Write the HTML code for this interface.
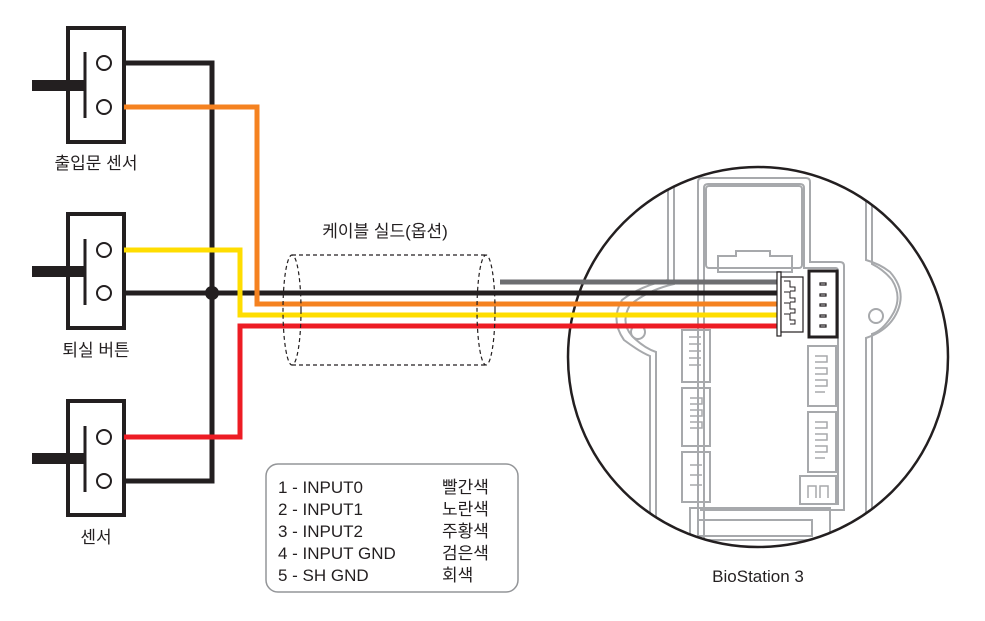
<!DOCTYPE html>
<html><head><meta charset="utf-8"><style>
html,body{margin:0;padding:0;background:#fff}
svg{display:block}
text{font-family:"Liberation Sans","Noto Sans CJK KR",sans-serif;fill:#231f20}
</style></head><body>
<svg width="985" height="621" viewBox="0 0 985 621" xmlns="http://www.w3.org/2000/svg">
<defs><clipPath id="c"><circle cx="758" cy="357" r="190"/></clipPath></defs>
<!-- board in circle -->
<g clip-path="url(#c)" fill="none" stroke="#a7a9ac" stroke-width="2">
  <path d="M698 600 V182 Q698 178 702 178 H806 Q810 178 810 182 V262 H840 Q844 262 844 266 V510 H700"/>
  <path d="M704 600 V188 Q704 184 708 184 H800 Q804 184 804 188 V268 H836 Q838 268 838 272 V505"/>
  <rect x="706" y="186" width="96" height="82" rx="3"/>
  <path d="M718 272 V256 H736 V251 H770 V256 H792 V272 Z"/>
  <path d="M668 186 V280 Q640 286 622 300 Q610 320 624 340 Q640 352 650 356 V600"/>
  <path d="M674 186 V284 Q648 290 630 305 Q620 322 632 336 Q644 348 656 352 V600"/>
  <circle cx="638" cy="332" r="7"/>
  <path d="M866 186 V260 Q880 264 890 272 Q906 290 898 310 Q890 330 866 338 V600"/>
  <path d="M872 186 V264 Q884 270 892 280 Q902 296 894 312 Q884 330 872 334 V600"/>
  <circle cx="876" cy="316" r="7"/>
  <rect x="682" y="330" width="28" height="52"/>
  <rect x="682" y="388" width="28" height="58"/>
  <rect x="682" y="452" width="28" height="50"/>
  <rect x="808" y="346" width="28" height="60"/>
  <rect x="808" y="412" width="28" height="60"/>
  <rect x="800" y="476" width="36" height="28"/>
  <path d="M690 508 H830 V540 H690 Z"/>
  <path d="M698 520 H812 V536 H698 Z"/>
</g>
<g fill="none" stroke="#a7a9ac" stroke-width="1.5">
  <path d="M689 337 h12 M689 344 h12 M689 351 h12 M689 358 h12 M689 365 h12"/>
  <path d="M690 398 h12 v6 h-12 M690 410 h12 v6 h-12 M690 422 h12 v6 h-12"/>
  <path d="M690 465 h12 M690 475 h12 M690 485 h12"/>
  <path d="M815 356 h12 v6 h-12 M815 368 h12 v6 h-12 M815 380 h12 v6 h-12 M815 392 h10"/>
  <path d="M815 422 h12 v6 h-12 M815 434 h12 v6 h-12 M815 446 h12 v6 h-12 M815 458 h10"/>
  <path d="M808 498 v-12 h8 v12 M820 498 v-12 h8 v12"/>
</g>
<circle cx="758" cy="357" r="190" fill="none" stroke="#231f20" stroke-width="2.5"/>

<!-- switches -->
<g fill="none" stroke="#231f20">
  <rect x="68" y="28" width="56" height="114" stroke-width="4"/>
  <rect x="68" y="214" width="56" height="114" stroke-width="4"/>
  <rect x="68" y="401" width="56" height="114" stroke-width="4"/>
  <g stroke-width="2"><circle cx="104" cy="63" r="7"/><circle cx="104" cy="107" r="7"/>
  <circle cx="104" cy="250" r="7"/><circle cx="104" cy="293" r="7"/>
  <circle cx="104" cy="437" r="7"/><circle cx="104" cy="481" r="7"/></g>
  <g stroke-width="3"><path d="M85 52 V118 M85 239 V305 M85 426 V492"/></g>
</g>
<g fill="#231f20"><rect x="32" y="80" width="53" height="11"/><rect x="32" y="266" width="53" height="11"/><rect x="32" y="453" width="53" height="11"/></g>

<!-- wires -->
<g fill="none" stroke-width="5" stroke-linejoin="miter">
  <path d="M124 63 H212 V481 H124 M124 293 H778" stroke="#231f20"/>
  <path d="M500 282 H778" stroke="#6d6e71"/>
  <path d="M124 107 H257 V304 H778" stroke="#f58220"/>
  <path d="M124 250 H240 V315 H778" stroke="#ffdd00"/>
  <path d="M124 437 H240 V326 H778" stroke="#ed1c24"/>
</g>
<circle cx="212" cy="293" r="7" fill="#231f20"/>

<!-- shield -->
<g fill="none" stroke="#231f20" stroke-width="1.2" stroke-dasharray="4 3">
  <ellipse cx="292" cy="310" rx="9" ry="55"/>
  <ellipse cx="486" cy="310" rx="9" ry="55"/>
  <path d="M292 255 H486 M292 365 H486"/>
</g>

<!-- connector -->
<rect x="777" y="272" width="4" height="64" fill="#fff" stroke="#231f20" stroke-width="1.2"/>
<rect x="781" y="277" width="22" height="55" fill="#fff" stroke="#231f20" stroke-width="1.2"/>
<path d="M784 281 h6 v6 h5 v4 h-5 M784 292 h6 v6 h5 v4 h-5 M784 303 h6 v6 h5 v4 h-5 M784 314 h6 v6 h5 v4 h-5" fill="none" stroke="#231f20" stroke-width="1"/>
<rect x="809" y="271" width="28" height="66" fill="#fff" stroke="#231f20" stroke-width="3"/>
<g fill="none" stroke="#231f20" stroke-width="1.2"><path d="M820 283 h6 v2 h-6z M820 294 h6 v2 h-6z M820 304 h6 v2 h-6z M820 315 h6 v2 h-6z M820 325 h6 v2 h-6z"/></g>

<!-- legend -->
<rect x="266" y="464" width="252" height="128" rx="12" fill="none" stroke="#939598" stroke-width="1.5"/>
<g font-size="17">
<text x="278" y="493">1 - INPUT0</text><text x="442" y="493">빨간색</text>
<text x="278" y="515">2 - INPUT1</text><text x="442" y="515">노란색</text>
<text x="278" y="537">3 - INPUT2</text><text x="442" y="537">주황색</text>
<text x="278" y="559">4 - INPUT GND</text><text x="442" y="559">검은색</text>
<text x="278" y="581">5 - SH GND</text><text x="442" y="581">회색</text>
</g>
<g font-size="17">
<text x="96" y="169" text-anchor="middle">출입문 센서</text>
<text x="96" y="356" text-anchor="middle">퇴실 버튼</text>
<text x="96" y="543" text-anchor="middle">센서</text>
<text x="385" y="237" text-anchor="middle">케이블 실드(옵션)</text>
<text x="758" y="582" text-anchor="middle">BioStation 3</text>
</g>
</svg>
</body></html>
